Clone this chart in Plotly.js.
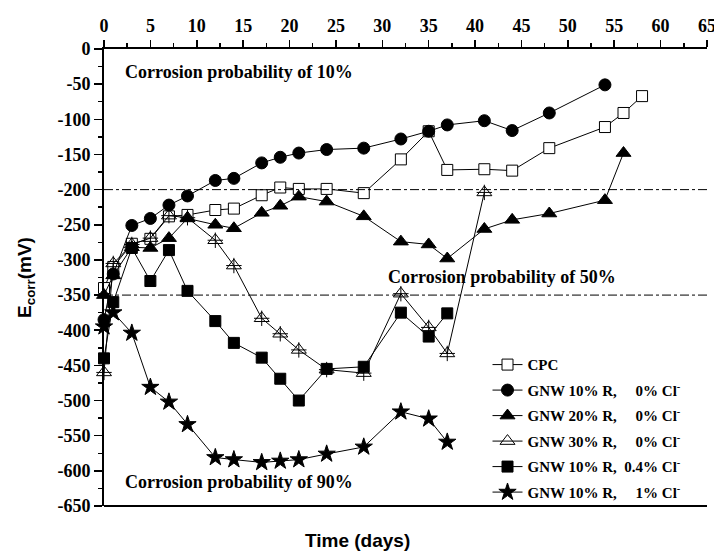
<!DOCTYPE html>
<html>
<head>
<meta charset="utf-8">
<script src="https://cdn.plot.ly/plotly-3.0.1.min.js"></script>
<style>html,body{margin:0;padding:0;background:#fff;}#chart{width:714px;height:558px;}</style>
</head>
<body>
<div id="chart"></div>
<script>
// ---- data ----
const cpcDays   = [0, 1, 3, 5, 7, 9, 12, 14, 17, 19, 21, 24, 28, 32, 35, 37, 41, 44, 48, 54, 56, 58];
const cpcE      = [-340, -310, -277, -270, -238, -236, -229, -227, -208, -197, -199, -199, -205, -157, -117, -172, -171, -173, -141, -111, -91, -67];

const g10Days   = [0, 1, 3, 5, 7, 9, 12, 14, 17, 19, 21, 24, 28, 32, 35, 37, 41, 44, 48, 54];
const g10E      = [-385, -320, -251, -241, -222, -209, -187, -184, -162, -154, -148, -143, -141, -128, -117, -108, -102, -116, -91, -51];

const g20Days   = [0, 1, 3, 5, 7, 9, 12, 14, 17, 19, 21, 24, 28, 32, 35, 37, 41, 44, 48, 54, 56];
const g20E      = [-350, -322, -282, -283, -269, -241, -250, -255, -233, -223, -210, -217, -238, -274, -278, -298, -256, -243, -234, -215, -148];

const g30Days   = [0, 1, 3, 5, 7, 9, 12, 14, 17, 19, 21, 24, 28, 32, 35, 37, 41];
const g30E      = [-460, -305, -278, -269, -237, -240, -272, -308, -383, -405, -428, -456, -461, -348, -396, -433, -204];

const g04Days   = [0, 1, 3, 5, 7, 9, 12, 14, 17, 19, 21, 24, 28, 32, 35, 37];
const g04E      = [-440, -360, -283, -330, -286, -344, -387, -418, -439, -469, -500, -455, -452, -375, -409, -376];

const g1Days    = [0, 1, 3, 5, 7, 9, 12, 14, 17, 19, 21, 24, 28, 32, 35, 37];
const g1E       = [-395, -375, -404, -481, -502, -534, -581, -584, -588, -586, -584, -576, -566, -516, -526, -559];

const thresholds = [-200, -350];
const xTicks = [0, 5, 10, 15, 20, 25, 30, 35, 40, 45, 50, 55, 60, 65];
const yTicks = [0, -50, -100, -150, -200, -250, -300, -350, -400, -450, -500, -550, -600, -650];

const names = [
  'CPC',
  'GNW 10% R,\u00a0\u00a0\u00a0\u00a0\u00a00% Cl<sup>-</sup>',
  'GNW 20% R,\u00a0\u00a0\u00a0\u00a0\u00a00% Cl<sup>-</sup>',
  'GNW 30% R,\u00a0\u00a0\u00a0\u00a0\u00a00% Cl<sup>-</sup>',
  'GNW 10% R,\u00a0\u00a00.4% Cl<sup>-</sup>',
  'GNW 10% R,\u00a0\u00a0\u00a0\u00a0\u00a01% Cl<sup>-</sup>'
];

// ---- traces ----
function tr(x, y, name, symbol, size, grp, extra) {
  return Object.assign({
    x: x, y: y, name: name, type: 'scatter', mode: 'lines+markers',
    legendgroup: grp, cliponaxis: false,
    line: {color: '#000', width: 1},
    marker: {symbol: symbol, size: size, color: '#000', line: {color: '#000', width: 1}}
  }, extra || {});
}

const traces = [
  tr(cpcDays, cpcE, names[0], 'square', 11, 'a', {marker: {symbol: 'square', size: 11, color: '#fff', line: {color: '#000', width: 1}}}),
  tr(g10Days, g10E, names[1], 'circle', 12, 'b'),
  tr(g20Days, g20E, names[2], 'triangle-up', 13, 'c'),
  tr(g30Days, g30E, names[3], 'triangle-up', 13, 'd', {marker: {symbol: 'triangle-up', size: 13, color: 'rgba(255,255,255,0)', line: {color: '#000', width: 1}}}),
  {x: g30Days, y: g30E, type: 'scatter', mode: 'markers', showlegend: false, legendgroup: 'd', cliponaxis: false, hoverinfo: 'skip',
   marker: {symbol: 'cross-thin-open', size: 11, color: '#000', line: {color: '#000', width: 1}}},
  tr(g04Days, g04E, names[4], 'square', 11, 'e'),
  tr(g1Days, g1E, names[5], 'star', 13, 'f')
];

// ---- layout ----
const SERIF = 'Liberation Serif, Times New Roman, serif';
const SANS = 'Liberation Sans, Arial, sans-serif';
const tfont = {family: SERIF, size: 18, color: '#000', weight: 'bold'};
const shapes = thresholds.map(v => ({
  type: 'line', xref: 'paper', x0: 0, x1: 1, yref: 'y', y0: v, y1: v,
  line: {color: '#000', width: 1, dash: 'dashdot'}
}));
shapes.push({type: 'line', xref: 'paper', x0: 0, x1: 1, yref: 'paper', y0: 0, y1: 0, line: {color: '#000', width: 2}});

const ann = (x, y, t) => ({x: x, y: y, xref: 'x', yref: 'y', text: t, showarrow: false,
  xanchor: 'left', yanchor: 'middle', font: {family: SERIF, size: 18, color: '#000', weight: 'bold'}});

const layout = {
  width: 714, height: 558,
  margin: {l: 104, r: 7, t: 49, b: 52},
  paper_bgcolor: '#fff', plot_bgcolor: '#fff',
  showlegend: true,
  legend: {x: 0.636, y: 0.345, xanchor: 'left', yanchor: 'top', bgcolor: 'rgba(0,0,0,0)',
           traceorder: 'grouped', tracegroupgap: 3,
           font: {family: SERIF, size: 15, color: '#000', weight: 'bold'}},
  xaxis: {
    side: 'top', range: [0, 65], tickvals: xTicks, ticktext: xTicks.map(String),
    ticks: 'outside', ticklen: 7, tickwidth: 1.5, tickcolor: '#000', ticklabelstandoff: 1,
    ticklabeloverflow: 'allow',
    minor: {dtick: 2.5, ticks: 'outside', ticklen: 4, tickcolor: '#000', tickwidth: 1.5},
    showline: true, linewidth: 2, linecolor: '#000', showgrid: false, zeroline: false,
    tickfont: tfont
  },
  yaxis: {
    range: [-650, 0], tickvals: yTicks, ticktext: yTicks.map(String),
    ticks: 'outside', ticklen: 8, tickwidth: 1.5, tickcolor: '#000',
    minor: {dtick: 25, ticks: 'outside', ticklen: 4, tickcolor: '#000', tickwidth: 1.5},
    showline: true, linewidth: 2, linecolor: '#000', showgrid: false, zeroline: false,
    tickfont: tfont,
    title: {text: 'E<sub>corr</sub>(mV)', standoff: 21,
            font: {family: SANS, size: 19, color: '#000', weight: 'bold'}}
  },
  shapes: shapes,
  annotations: [
    ann(2, -32, 'Corrosion probability of 10%'),
    ann(30.4, -324, 'Corrosion probability of 50%'),
    ann(2, -616, 'Corrosion probability of 90%'),
    {xref: 'paper', yref: 'paper', x: 0.42, y: -0.075, xanchor: 'center', yanchor: 'middle', showarrow: false,
     text: 'Time (days)', font: {family: SANS, size: 19, color: '#000', weight: 'bold'}}
  ]
};

Plotly.newPlot('chart', traces, layout, {displayModeBar: false, staticPlot: true});
</script>
</body>
</html>
